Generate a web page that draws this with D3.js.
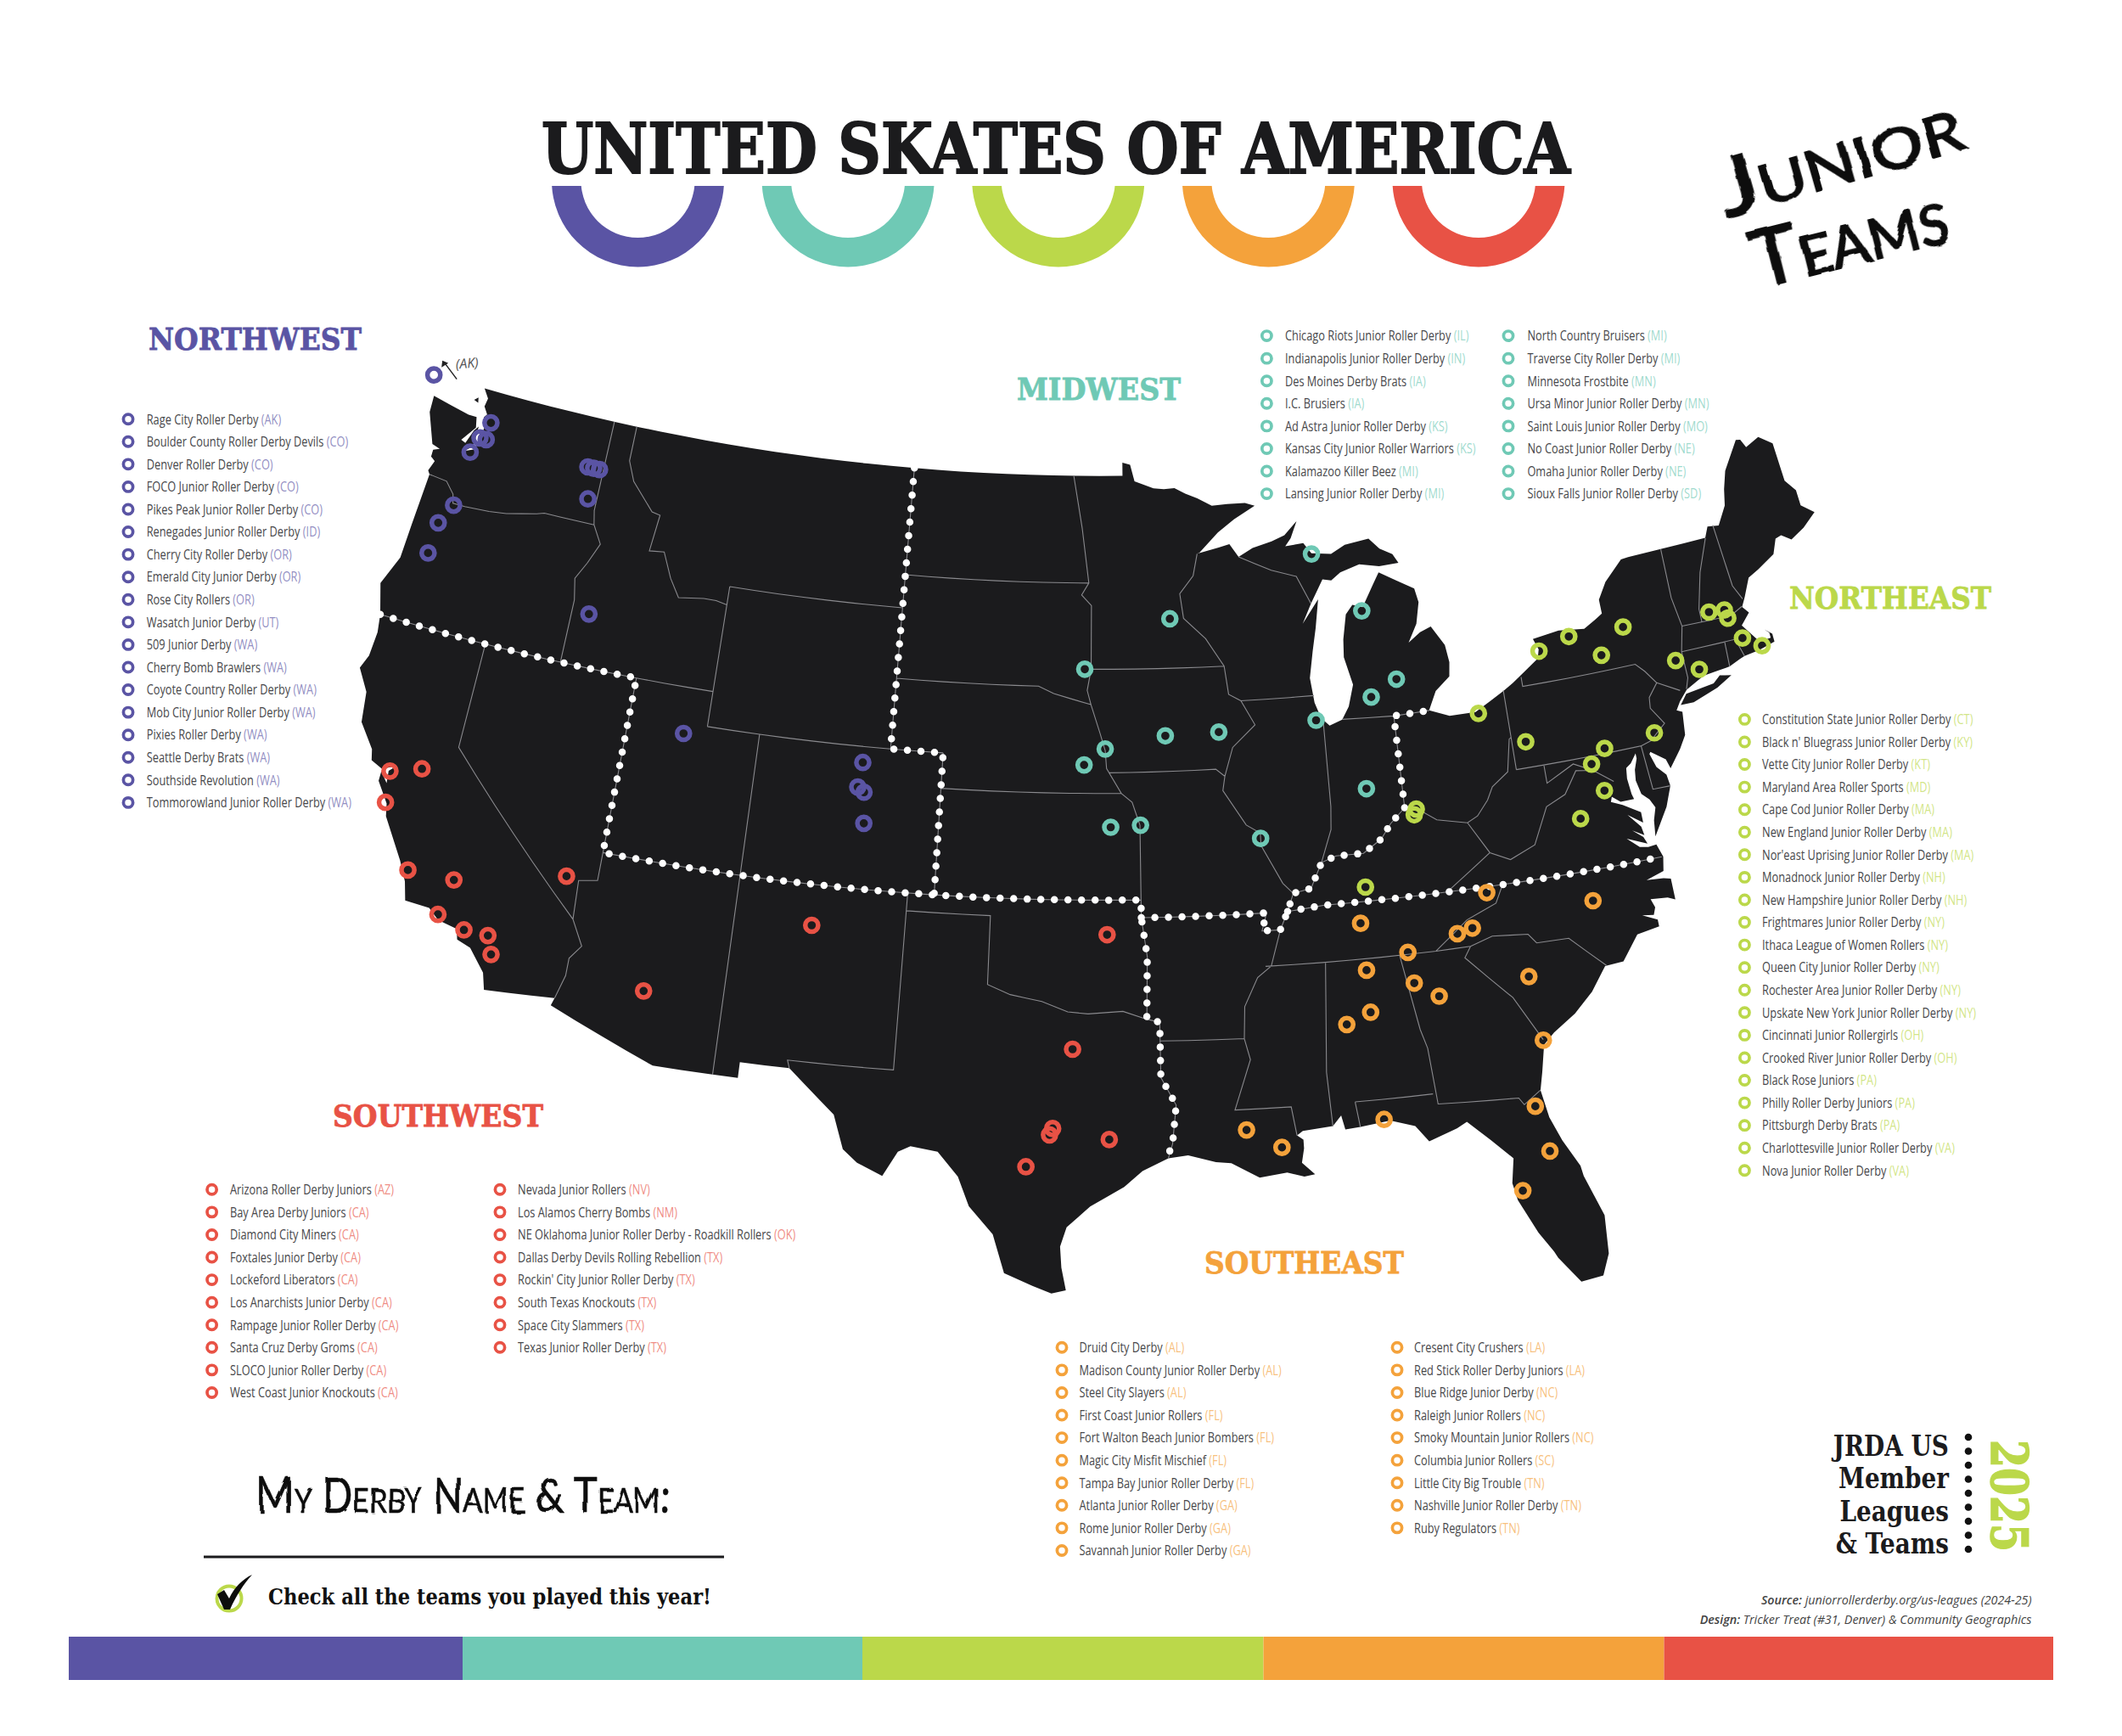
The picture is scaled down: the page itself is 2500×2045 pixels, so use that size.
<!DOCTYPE html>
<html><head><meta charset="utf-8">
<script src="https://cdn.jsdelivr.net/npm/d3@7/dist/d3.min.js"></script>
<style>html,body{margin:0;padding:0;background:#fff}svg{display:block}</style>
</head><body><svg id="c" width="2500" height="2045" viewBox="0 0 2500 2045"></svg>
<script>
const regionNames=["NORTHWEST","MIDWEST","NORTHEAST","SOUTHEAST","SOUTHWEST"];
const regionColors=["#5a54a4","#6fc9b5","#bbd84a","#f4a23b","#e85245"];
const title="UNITED SKATES OF AMERICA";

const northwestTeams=[["Rage City Roller Derby","AK"],["Boulder County Roller Derby Devils","CO"],["Denver Roller Derby","CO"],["FOCO Junior Roller Derby","CO"],["Pikes Peak Junior Roller Derby","CO"],["Renegades Junior Roller Derby","ID"],["Cherry City Roller Derby","OR"],["Emerald City Junior Derby","OR"],["Rose City Rollers","OR"],["Wasatch Junior Derby","UT"],["509 Junior Derby","WA"],["Cherry Bomb Brawlers","WA"],["Coyote Country Roller Derby","WA"],["Mob City Junior Roller Derby","WA"],["Pixies Roller Derby","WA"],["Seattle Derby Brats","WA"],["Southside Revolution","WA"],["Tommorowland Junior Roller Derby","WA"]];
const midwestTeams=[["Chicago Riots Junior Roller Derby","IL"],["Indianapolis Junior Roller Derby","IN"],["Des Moines Derby Brats","IA"],["I.C. Brusiers","IA"],["Ad Astra Junior Roller Derby","KS"],["Kansas City Junior Roller Warriors","KS"],["Kalamazoo Killer Beez","MI"],["Lansing Junior Roller Derby","MI"],["North Country Bruisers","MI"],["Traverse City Roller Derby","MI"],["Minnesota Frostbite","MN"],["Ursa Minor Junior Roller Derby","MN"],["Saint Louis Junior Roller Derby","MO"],["No Coast Junior Roller Derby","NE"],["Omaha Junior Roller Derby","NE"],["Sioux Falls Junior Roller Derby","SD"]];
const northeastTeams=[["Constitution State Junior Roller Derby","CT"],["Black n' Bluegrass Junior Roller Derby","KY"],["Vette City Junior Roller Derby","KT"],["Maryland Area Roller Sports","MD"],["Cape Cod Junior Roller Derby","MA"],["New England Junior Roller Derby","MA"],["Nor'east Uprising Junior Roller Derby","MA"],["Monadnock Junior Roller Derby","NH"],["New Hampshire Junior Roller Derby","NH"],["Frightmares Junior Roller Derby","NY"],["Ithaca League of Women Rollers","NY"],["Queen City Junior Roller Derby","NY"],["Rochester Area Junior Roller Derby","NY"],["Upskate New York Junior Roller Derby","NY"],["Cincinnati Junior Rollergirls","OH"],["Crooked River Junior Roller Derby","OH"],["Black Rose Juniors","PA"],["Philly Roller Derby Juniors","PA"],["Pittsburgh Derby Brats","PA"],["Charlottesville Junior Roller Derby","VA"],["Nova Junior Roller Derby","VA"]];
const southeastTeams=[["Druid City Derby","AL"],["Madison County Junior Roller Derby","AL"],["Steel City Slayers","AL"],["First Coast Junior Rollers","FL"],["Fort Walton Beach Junior Bombers","FL"],["Magic City Misfit Mischief","FL"],["Tampa Bay Junior Roller Derby","FL"],["Atlanta Junior Roller Derby","GA"],["Rome Junior Roller Derby","GA"],["Savannah Junior Roller Derby","GA"],["Cresent City Crushers","LA"],["Red Stick Roller Derby Juniors","LA"],["Blue Ridge Junior Derby","NC"],["Raleigh Junior Rollers","NC"],["Smoky Mountain Junior Rollers","NC"],["Columbia Junior Rollers","SC"],["Little City Big Trouble","TN"],["Nashville Junior Roller Derby","TN"],["Ruby Regulators","TN"]];
const southwestTeams=[["Arizona Roller Derby Juniors","AZ"],["Bay Area Derby Juniors","CA"],["Diamond City Miners","CA"],["Foxtales Junior Derby","CA"],["Lockeford Liberators","CA"],["Los Anarchists Junior Derby","CA"],["Rampage Junior Roller Derby","CA"],["Santa Cruz Derby Groms","CA"],["SLOCO Junior Roller Derby","CA"],["West Coast Junior Knockouts","CA"],["Nevada Junior Rollers","NV"],["Los Alamos Cherry Bombs","NM"],["NE Oklahoma Junior Roller Derby - Roadkill Rollers","OK"],["Dallas Derby Devils Rolling Rebellion","TX"],["Rockin' City Junior Roller Derby","TX"],["South Texas Knockouts","TX"],["Space City Slammers","TX"],["Texas Junior Roller Derby","TX"]];

// league home towns, [longitude, latitude]
const northwestPlaces=[[-125.0,48.95],[-122.1,48.1],[-122.1,47.6],[-122.37,47.6],[-122.6,47.13],[-117.7,47.57],[-117.45,47.57],[-117.2,47.57],[-117.4,46.68],[-122.65,45.55],[-123.05,44.95],[-123.1,44.05],[-116.35,43.5],[-111.9,40.7],[-105.05,40.55],[-105.15,39.85],[-104.9,39.72],[-104.8,38.85]];
const midwestPlaces=[[-87.4,46.5],[-93.3,44.9],[-85.6,44.75],[-96.7,43.5],[-84.55,42.72],[-85.6,42.3],[-87.8,41.8],[-91.55,41.65],[-93.6,41.6],[-95.9,41.25],[-96.7,40.8],[-86.15,39.75],[-95.7,39.05],[-94.6,39.1],[-90.2,38.6]];
const northeastPlaces=[[-72.1,42.95],[-71.5,42.9],[-71.45,42.65],[-71.1,42.0],[-70.45,41.65],[-73.8,41.85],[-73,41.45],[-75.5,43.1],[-76.55,42.45],[-77.65,43.15],[-78.9,42.9],[-81.6,41.45],[-80,40.45],[-75.2,40],[-77.14,39.86],[-77.73,39.5],[-77.45,38.7],[-78.5,38.05],[-84.4,39.02],[-84.5,38.87],[-86.55,37]];
const southeastPlaces=[[-82.27,36.43],[-78.6,35.72],[-86.85,36],[-82.95,35.5],[-83.5,35.4],[-85.3,35.05],[-86.8,34.67],[-85.2,34.17],[-84.4,33.72],[-81.25,33.92],[-86.8,33.48],[-87.65,33.2],[-81.1,32.08],[-81.7,30.27],[-86.7,30.43],[-91.25,30.42],[-90.12,29.87],[-81.45,28.95],[-82.5,27.95]];
const southwestPlaces=[[-122.2,37.85],[-121.1,38.15],[-122.05,36.97],[-120.65,35.3],[-119,35.35],[-119.25,34.3],[-118.25,34.05],[-117.4,34.05],[-117.15,33.55],[-115.15,36.15],[-111.78,33.37],[-106.3,35.85],[-95.84,36.03],[-97.02,32.8],[-97.65,30.55],[-97.75,30.37],[-98.5,29.45],[-95.78,30.25]];

// coast, lake shore and land border of the lower 48, [longitude, latitude]
const landOutline=[[-122.76,49],[-116.05,49],[-104.05,49],[-95.15,49],[-95.15,49.38],[-94.82,49.32],[-94.64,48.84],[-93.84,48.63],[-93.4,48.6],[-92.95,48.62],[-92.5,48.45],[-92,48.3],[-91.4,48.07],[-90.75,48.1],[-90,48.1],[-89.6,48],[-90.5,47.65],[-91.2,47.3],[-92,46.75],[-92.1,46.72],[-91.2,46.87],[-90.75,46.95],[-90.4,46.57],[-89.8,46.8],[-89,46.95],[-88.45,47.1],[-87.9,47.47],[-88.2,47],[-88.45,46.78],[-87.7,46.83],[-87.4,46.52],[-86.6,46.45],[-86,46.67],[-85,46.77],[-84.6,46.45],[-84.1,46.25],[-83.9,45.98],[-84.7,45.95],[-85.5,46.07],[-86.3,45.9],[-86.7,45.7],[-87.05,45.75],[-87.6,45.1],[-88,44.55],[-87.3,45.2],[-87.5,44.4],[-87.7,43.75],[-87.9,43],[-87.8,42.3],[-87.6,41.85],[-87.3,41.62],[-86.8,41.75],[-86.5,42.1],[-86.25,42.7],[-86.5,43.5],[-86.45,44],[-86.25,44.7],[-85.95,44.95],[-85.55,44.85],[-85,45.5],[-84.75,45.78],[-84.1,45.5],[-83.4,45.2],[-83.3,44.8],[-83.5,44.2],[-83.9,43.7],[-83.4,43.95],[-82.95,44.07],[-82.5,43.5],[-82.42,43],[-82.5,42.6],[-83.1,42.25],[-83.45,41.73],[-82.7,41.5],[-81.7,41.5],[-80.5,41.97],[-80.1,42.15],[-79,42.7],[-78.9,42.95],[-79.05,43.27],[-78,43.37],[-77,43.28],[-76.5,43.47],[-76.2,43.6],[-76.2,44],[-75.8,44.45],[-75,44.98],[-74.7,45],[-73.35,45.01],[-71.5,45.01],[-71.3,45.3],[-70.85,45.25],[-70.4,45.75],[-70.25,46.2],[-70,46.7],[-69.23,47.46],[-69.05,47.43],[-68.9,47.18],[-68.3,47.36],[-67.8,47.07],[-67.78,45.95],[-67.45,45.6],[-67.45,45.15],[-67,44.85],[-67.6,44.52],[-68.2,44.3],[-68.55,44.5],[-68.8,44.45],[-69.05,44.05],[-69.8,43.75],[-70.25,43.6],[-70.6,43.1],[-70.8,42.85],[-70.6,42.65],[-71,42.35],[-70.65,41.95],[-70.5,41.78],[-70.05,41.8],[-70.05,41.95],[-70.2,42.07],[-69.95,41.9],[-69.95,41.67],[-70.6,41.55],[-71.2,41.5],[-71.4,41.45],[-71.85,41.32],[-72.9,41.25],[-73.65,40.98],[-74,40.7],[-74.2,40.48],[-74,40.4],[-74.1,39.75],[-74.4,39.4],[-74.9,38.93],[-75,39.2],[-75.5,39.5],[-75.55,39.45],[-75.4,39.05],[-75.1,38.78],[-75.05,38.45],[-75.35,37.9],[-75.97,37.15],[-75.9,37.6],[-75.75,37.95],[-75.9,38.2],[-76.15,38.4],[-76.25,38.8],[-76.2,39.1],[-76.05,39.4],[-76.05,39.55],[-76.3,39.3],[-76.5,39.2],[-76.55,38.9],[-76.5,38.45],[-76.45,38.3],[-76.95,38.3],[-77.25,38.5],[-77.05,38.85],[-77.3,38.35],[-76.9,38.2],[-76.3,37.9],[-76.3,37.6],[-76.8,37.9],[-76.4,37.5],[-76.35,37.25],[-76.75,37.45],[-76.4,37.2],[-76.3,37],[-77,37.25],[-76.6,36.95],[-76.3,36.9],[-76,36.92],[-75.85,36.55],[-75.95,36.15],[-76.6,36],[-76,35.95],[-75.75,35.9],[-75.75,35.3],[-76.0,35.4],[-76.6,35.45],[-76.5,35.2],[-76.6,35],[-77,35.05],[-76.5,34.85],[-76.5,34.65],[-77.3,34.55],[-77.95,33.88],[-78.6,33.85],[-79.2,33.2],[-79.9,32.68],[-80.7,32.25],[-81.1,31.95],[-81.3,31.2],[-81.45,30.7],[-81.3,29.9],[-81,29.2],[-80.55,28.4],[-80.5,28.1],[-80.05,26.9],[-80.12,25.8],[-80.4,25.2],[-81.1,25.13],[-81.7,25.9],[-81.8,26.1],[-82.2,26.7],[-82.7,27.7],[-82.8,28.2],[-82.65,28.9],[-83.3,29.5],[-84,30.1],[-84.35,29.95],[-85.3,29.68],[-85.7,30.15],[-86.5,30.38],[-87.5,30.28],[-88,30.25],[-88.1,30.65],[-88.4,30.37],[-89.4,30.3],[-89.6,30.18],[-89.4,30.05],[-89.4,29.8],[-89.5,29.4],[-89.1,29.05],[-89.45,29.0],[-90,29.15],[-90.9,29.05],[-91.8,29.5],[-92.3,29.55],[-93.2,29.77],[-93.85,29.7],[-94.7,29.35],[-95.3,28.9],[-96.4,28.35],[-97.15,27.75],[-97.35,27.2],[-97.3,26.6],[-97.15,25.95],[-97.6,25.85],[-98.2,26.06],[-99.1,26.4],[-99.5,27.5],[-100.3,28.27],[-100.7,29.1],[-101.4,29.77],[-102.3,29.88],[-102.7,29.7],[-103.15,28.98],[-104,29.3],[-104.5,29.65],[-104.9,30.6],[-106,31.4],[-106.53,31.78],[-108.2,31.78],[-108.2,31.33],[-111.07,31.33],[-114.8,32.5],[-114.72,32.72],[-117.12,32.53],[-117.28,33],[-117.9,33.6],[-118.4,33.74],[-118.5,34.03],[-119.2,34.15],[-119.6,34.42],[-120.47,34.45],[-120.65,34.97],[-121,35.5],[-121.9,36.6],[-122,36.95],[-122.5,37.5],[-122.5,37.78],[-122.2,37.5],[-122.25,37.85],[-122.0,38.05],[-122.5,37.85],[-122.95,38],[-123.05,38.3],[-123.7,38.95],[-123.85,39.8],[-124.35,40.4],[-124.15,40.8],[-124.1,41.5],[-124.2,42],[-124.55,42.85],[-124.1,43.7],[-124.05,44.7],[-123.95,46.2],[-124.05,46.3],[-123.9,46.6],[-124.1,46.7],[-124.1,46.9],[-123.85,46.98],[-124.2,47.05],[-124.7,47.9],[-124.73,48.38],[-123.1,48.15],[-122.75,48.15],[-122.65,47.85],[-123.1,47.4],[-122.9,47.35],[-122.7,47.75],[-122.55,47.9],[-122.55,47.3],[-122.9,47.1],[-122.45,47.25],[-122.35,47.6],[-122.3,48],[-122.45,48.2],[-122.35,48.3],[-122.55,48.5],[-122.5,48.75],[-122.76,49]];
const longIsland=[[-74,40.6],[-73.7,40.87],[-72.6,40.97],[-72.3,41.15],[-71.87,41.07],[-72.5,40.83],[-73.5,40.59],[-74,40.6]];
const orcasIsland=[[-123.05,48.6],[-122.9,48.7],[-122.85,48.55],[-123.05,48.6]];

const stateBorders=[
[[-123.95,46.2],[-123.2,46.15],[-122.8,45.85],[-122.7,45.6],[-122.2,45.6],[-121.2,45.65],[-120.5,45.72],[-119.3,45.93],[-119,46],[-116.92,46]],
[[-117.03,49],[-117.04,46.4],[-116.92,46],[-116.5,45.5],[-116.85,44.9],[-117.2,44.4],[-117.03,43.8],[-117.03,42]],
[[-116.05,49],[-116.05,48],[-115.7,47.45],[-114.7,46.7],[-114.35,46.65],[-114.5,45.6],[-113.9,45.65],[-113.45,44.95],[-113,44.45],[-112,44.55],[-111.5,44.55],[-111.05,44.48]],
[[-111.05,45],[-111.05,41]],[[-111.05,45],[-104.05,45]],[[-104.05,49],[-104.05,41]],[[-111.05,41],[-102.05,41]],
[[-124.2,42],[-111.05,42]],[[-114.04,42],[-114.04,36.2],[-114.7,36.1],[-114.63,35]],[[-114.04,37],[-94.62,37]],[[-109.05,41],[-109.05,31.33]],
[[-120,42],[-120,39],[-114.63,35],[-114.15,34.3],[-114.5,33.9],[-114.5,33.4],[-114.72,32.72]],
[[-103,37],[-103.04,32],[-106.62,32],[-106.53,31.78]],
[[-103,36.5],[-100,36.5],[-100,34.56],[-99.2,34.3],[-98.1,34.13],[-97.2,33.85],[-96.5,33.8],[-95.3,33.87],[-94.48,33.64],[-94.04,33.55],[-94.04,31.99],[-93.55,31.2],[-93.7,30.1],[-93.85,29.7]],
[[-94.62,36.5],[-94.43,35.4],[-94.48,33.64]],[[-94.04,33.02],[-91.17,33]],
[[-102.05,41],[-102.05,37]],[[-102.05,40],[-95.3,40]],[[-104.05,45.94],[-96.56,45.94]],[[-104.05,43],[-98.5,43],[-97.9,42.8],[-96.45,42.5]],
[[-97.23,49],[-96.85,47.5],[-96.56,45.94],[-96.85,45.6],[-96.45,45.3],[-96.45,43.5],[-96.6,42.9],[-96.45,42.5],[-96.1,41.7],[-95.9,41.2],[-95.85,40.7],[-95.3,40],[-94.9,39.75],[-94.62,39.1],[-94.62,36.5]],
[[-96.45,43.5],[-91.22,43.5]],[[-92.1,46.72],[-92.3,46.1],[-92.87,45.6],[-92.75,44.9],[-91.9,44.3],[-91.22,43.5],[-91.1,42.7],[-90.64,42.5],[-90.15,41.8],[-91.05,41.2],[-91.4,40.4],[-91.5,40],[-90.7,39],[-90.2,38.75],[-90.2,38.4],[-89.5,37.3],[-89.15,37]],
[[-90.64,42.5],[-87.8,42.5]],[[-95.77,40.58],[-91.73,40.61],[-91.4,40.4]],
[[-90.4,46.57],[-89.1,46.13],[-88.1,45.9],[-87.6,45.1]],
[[-89.15,37],[-88.5,37.1],[-88.05,37.8],[-87.5,37.95],[-86.5,37.95],[-85.8,38.3],[-85.4,38.7],[-84.82,39.1],[-84.4,39.05],[-83.7,38.65],[-82.6,38.45],[-82.2,38.6],[-81.75,39],[-81.5,39.35],[-80.85,39.7],[-80.6,40.6],[-80.52,40.64]],
[[-87.53,41.7],[-87.53,39.35],[-87.6,38.7],[-88.05,37.8]],[[-84.82,41.7],[-84.82,39.1]],[[-86.8,41.76],[-84.82,41.7],[-83.45,41.73]],
[[-80.52,41.98],[-80.52,39.72]],[[-79.76,42.27],[-79.76,42],[-75.35,42],[-75.05,41.75],[-74.7,41.36],[-75.1,41],[-75.15,40.7],[-74.75,40.2],[-75.4,39.8]],
[[-80.52,39.72],[-75.79,39.72],[-75.7,38.46],[-75.05,38.45]],[[-75.4,39.8],[-75.79,39.72]],[[-74.7,41.36],[-73.9,41]],
[[-79.48,39.72],[-79.48,39.2],[-78.4,39.6],[-77.72,39.32],[-77.05,38.9]],
[[-77.72,39.32],[-78.35,39.4],[-78.9,38.8],[-79.65,38.55],[-80.3,37.55],[-81.25,37.25],[-81.95,37.53],[-82.6,38.45]],[[-81.95,37.53],[-83.67,36.6]],
[[-75.9,36.55],[-81.67,36.59],[-83.67,36.6],[-88.07,36.6],[-89.4,36.5],[-89.15,37]],
[[-94.62,36.5],[-90.15,36.5],[-90.35,36],[-89.7,36],[-89.4,36.5]],
[[-89.7,36],[-90.1,35],[-90.6,34.7],[-91.1,33.9],[-91.17,33],[-91,32.4],[-91.6,31],[-89.73,31],[-89.6,30.18]],
[[-90.3,35],[-84.32,34.99],[-83.1,35]],[[-81.67,36.59],[-82,36.1],[-83.1,35.75],[-84.32,34.99]],[[-88.2,35],[-88.47,31.9],[-88.4,30.37]],
[[-85.6,35],[-85.18,32.85],[-85,32.3],[-84.87,30.7],[-82.2,30.57],[-82.05,30.36],[-81.45,30.7]],[[-87.6,31],[-85,31]],[[-87.6,31],[-87.5,30.28]],
[[-83.1,35],[-83.35,34.7],[-81.9,33.4],[-81.1,32.1]],[[-83.1,35],[-82.3,35.2],[-81.05,35.1],[-80.8,34.82],[-79.67,34.8],[-78.55,33.86]],
[[-73.35,45],[-73.4,43.6],[-73.25,42.75],[-73.5,42.05],[-73.5,41.3],[-73.65,41]],[[-71.5,45],[-72.05,44.1],[-72.45,43.1],[-72.46,42.73]],
[[-73.25,42.75],[-71.3,42.7],[-70.8,42.87]],[[-71.08,45.3],[-70.95,43.5],[-70.7,43.07]],[[-73.5,42.05],[-71.38,42.02],[-71.2,41.5]],[[-71.8,42.02],[-71.85,41.32]]
];
const regionDividers=[
[[-124.2,42],[-114.04,42],[-114.04,37],[-94.62,37],[-94.62,36.5],[-94.43,35.4],[-94.48,33.64],[-94.04,33.55],[-94.04,31.99],[-93.55,31.2],[-93.7,30.1],[-93.85,29.8]],
[[-104.05,49],[-104.05,41],[-102.05,41],[-102.05,37]],
[[-94.62,36.5],[-90.15,36.5],[-90.35,36],[-89.7,36],[-89.4,36.5],[-89.15,37],[-88.5,37.1],[-88.05,37.8],[-87.5,37.95],[-86.5,37.95],[-85.8,38.3],[-85.4,38.7],[-84.82,39.1],[-84.82,41.7],[-83.45,41.73]],
[[-89.4,36.5],[-88.07,36.6],[-83.67,36.6],[-81.67,36.59],[-75.9,36.55]]
];

const svg=d3.select("#c");
svg.append("rect").attr("width",2500).attr("height",2045).attr("fill","#fff");
const defs=svg.append("defs");
const wob=defs.append("filter").attr("id","hand").attr("x","-10%").attr("y","-30%").attr("width","120%").attr("height","160%");
wob.append("feTurbulence").attr("type","fractalNoise").attr("baseFrequency",0.03).attr("numOctaves",2).attr("seed",4).attr("result","n");
wob.append("feDisplacementMap").attr("in","SourceGraphic").attr("in2","n").attr("scale",7);
const clip=defs.append("clipPath").attr("id","arcTop");
clip.append("rect").attr("x",0).attr("y",219).attr("width",2500).attr("height",120);

const SLAB='"DejaVu Serif",serif', SANS='"Open Sans",sans-serif', HAND='"Lato",sans-serif', INK="#1b1b1d";

// title
svg.append("text").attr("x",638).attr("y",204).attr("font-family",SLAB).attr("font-weight",700).attr("font-size",83)
  .attr("fill",INK).attr("stroke",INK).attr("stroke-width",2).attr("textLength",1212).attr("lengthAdjust","spacingAndGlyphs").text(title);

// half rings
const arcX=d3.scalePoint().domain(regionNames).range([751.5,1742]);
const ringArc=d3.arc().innerRadius(67).outerRadius(101.5).startAngle(-Math.PI/2).endAngle(Math.PI/2);
svg.append("g").attr("clip-path","url(#arcTop)").selectAll("path").data(regionNames).join("path")
  .attr("d",ringArc()).attr("transform",d=>`translate(${arcX(d)},213) rotate(180)`)
  .attr("fill",(d,i)=>regionColors[i]);

// handwriting
function hand(t,x,y,rot,size,len,stroke){
  svg.append("text").attr("transform",`translate(${x},${y}) rotate(${rot})`).attr("font-family",HAND).attr("font-weight",400)
   .attr("font-size",size).attr("font-variant","small-caps").attr("fill","#111").attr("stroke","#111").attr("stroke-width",stroke)
   .attr("textLength",len).attr("lengthAdjust","spacingAndGlyphs").attr("filter","url(#hand)").text(t);
}
hand("Junior",2034,256,-16,94,296,2.2);
hand("Teams",2072,340,-14,94,236,2.2);
hand("My Derby Name & Team:",302,1782,0,58,487,0.6);

// map
const proj=d3.geoAlbers().rotate([96,0]).center([0,38]).parallels([29.5,45.5]).scale(2378).translate([1299,1018.5]);
const geo=d3.geoPath(proj);
function dense(line){
  const out=[];
  d3.pairs(line).forEach(([a,b])=>{
    const n=Math.max(1,Math.ceil(Math.abs(b[0]-a[0])));
    for(let i=0;i<n;i++) out.push([a[0]+(b[0]-a[0])*i/n,a[1]+(b[1]-a[1])*i/n]);
  });
  out.push(line[line.length-1]);
  return out;
}
const map=svg.append("g");
map.append("path").datum({type:"MultiPolygon",coordinates:[[dense(landOutline)],[longIsland],[orcasIsland]]}).attr("d",geo).attr("fill",INK);
map.append("path").datum({type:"MultiLineString",coordinates:stateBorders.map(dense)}).attr("d",geo).attr("fill","none").attr("stroke","#8a8a8e").attr("stroke-width",1.1);
map.append("path").datum({type:"MultiLineString",coordinates:regionDividers.map(dense)}).attr("d",geo).attr("fill","none")
  .attr("stroke","#fff").attr("stroke-width",8.5).attr("stroke-linecap","round").attr("stroke-dasharray","0 16");

const places=[northwestPlaces,midwestPlaces,northeastPlaces,southeastPlaces,southwestPlaces];
places.forEach((pl,i)=>{
  map.append("g").selectAll("circle").data(pl).join("circle")
    .attr("cx",d=>proj(d)[0]).attr("cy",d=>proj(d)[1]).attr("r",7.6).attr("fill","none")
    .attr("stroke",regionColors[i]).attr("stroke-width",5.5);
});
// Alaska note
const ak=proj(northwestPlaces[0]);
svg.append("line").attr("x1",ak[0]+27).attr("y1",ak[1]+5).attr("x2",ak[0]+12).attr("y2",ak[1]-15).attr("stroke","#222").attr("stroke-width",1.5);
svg.append("path").attr("d",d3.line()([[ak[0]+9,ak[1]-9],[ak[0]+10,ak[1]-17],[ak[0]+17,ak[1]-14]])).attr("fill","#222").attr("stroke","none");
svg.append("text").attr("transform",`translate(${ak[0]+26},${ak[1]-7}) rotate(-5)`).attr("font-family",SANS).attr("font-style","italic").attr("font-size",16).attr("fill","#555").text("(AK)");

// region headings
const headAt=[[175,412,251],[1198,471,193],[2108,717,238],[1419,1500,235],[392,1327,248]];
regionNames.forEach((n,i)=>{
  svg.append("text").attr("x",headAt[i][0]).attr("y",headAt[i][1]).attr("font-family",SLAB).attr("font-weight",700).attr("font-size",36)
    .attr("fill",regionColors[i]).attr("stroke",regionColors[i]).attr("stroke-width",0.8).attr("textLength",headAt[i][2]).attr("lengthAdjust","spacingAndGlyphs").text(n);
});

// team lists
function list(teams,colour,cx,tx,y0){
  const y=d3.scaleLinear().domain([0,1]).range([y0,y0+26.57]);
  const g=svg.append("g");
  const row=g.selectAll("g").data(teams).join("g");
  row.append("circle").attr("cx",cx).attr("cy",(d,i)=>y(i)).attr("r",5.6).attr("fill","none").attr("stroke",colour).attr("stroke-width",3.7);
  const t=row.append("text").attr("transform",(d,i)=>`translate(${tx},${y(i)+5.8}) scale(0.785,1)`).attr("font-family",SANS).attr("font-size",16.3).attr("fill","#47474a");
  t.append("tspan").text(d=>d[0]+" ");
  t.append("tspan").attr("fill",colour).attr("fill-opacity",0.68).text(d=>`(${d[1]})`);
}
list(northwestTeams,regionColors[0],151,172.7,493.7);
list(midwestTeams.slice(0,8),regionColors[1],1492.4,1514,395.6);
list(midwestTeams.slice(8),regionColors[1],1777,1799.4,395.6);
list(northeastTeams,regionColors[2],2055.4,2076,847.4);
list(southeastTeams.slice(0,10),regionColors[3],1251,1271.5,1587.3);
list(southeastTeams.slice(10),regionColors[3],1646,1666,1587.3);
list(southwestTeams.slice(0,10),regionColors[4],249.6,271,1401.3);
list(southwestTeams.slice(10),regionColors[4],589,610,1401.3);

// name line and check note
svg.append("line").attr("x1",240).attr("x2",853).attr("y1",1834).attr("y2",1834).attr("stroke",INK).attr("stroke-width",3);
svg.append("circle").attr("cx",270).attr("cy",1883).attr("r",14.5).attr("fill","#fff").attr("stroke",regionColors[2]).attr("stroke-width",4);
svg.append("path").attr("d","M256,1878 L264,1873 L270,1883 C276,1870 286,1860 297,1855 C287,1866 278,1880 271,1896 L264,1896 Z").attr("fill","#0c0c0c");
svg.append("text").attr("x",316).attr("y",1890).attr("font-family",SLAB).attr("font-weight",700).attr("font-size",26).attr("fill","#111")
  .attr("textLength",522).attr("lengthAdjust","spacingAndGlyphs").text("Check all the teams you played this year!");

// footer block
const jrdaLines=["JRDA US","Member","Leagues","& Teams"];
const lineY=d3.scaleLinear().domain([0,3]).range([1715,1830]);
jrdaLines.forEach((l,i)=>{
  svg.append("text").attr("transform",`translate(2296,${lineY(i)}) scale(0.82,1)`).attr("text-anchor","end").attr("font-family",SLAB).attr("font-weight",700).attr("font-size",34).attr("fill",INK).text(l);
});
const dotY=d3.scaleLinear().domain([0,8]).range([1693,1825]);
svg.append("g").selectAll("circle").data(d3.range(9)).join("circle").attr("cx",2319).attr("cy",d=>dotY(d)).attr("r",4.3).attr("fill","#111");
svg.append("text").attr("transform","translate(2346,1696) rotate(90)").attr("font-family",SLAB).attr("font-weight",700).attr("font-size",60)
  .attr("fill",regionColors[2]).attr("stroke",regionColors[2]).attr("stroke-width",1.5).attr("textLength",132).attr("lengthAdjust","spacingAndGlyphs").text("2025");
const src=svg.append("text").attr("x",2393.5).attr("y",1890).attr("text-anchor","end").attr("font-family",SANS).attr("font-style","italic").attr("font-size",14.3).attr("fill","#444");
src.append("tspan").attr("font-weight",600).text("Source: ");src.append("tspan").text("juniorrollerderby.org/us-leagues (2024-25)");
const des=svg.append("text").attr("x",2393.5).attr("y",1913).attr("text-anchor","end").attr("font-family",SANS).attr("font-style","italic").attr("font-size",14.3).attr("fill","#444");
des.append("tspan").attr("font-weight",600).text("Design: ");des.append("tspan").text("Tricker Treat (#31, Denver) & Community Geographics");

// colour band
const bandEdges=[81,545,1016,1488.5,1960.5,2419];
svg.append("g").selectAll("rect").data(regionColors).join("rect").attr("x",(d,i)=>bandEdges[i]).attr("y",1928)
  .attr("width",(d,i)=>bandEdges[i+1]-bandEdges[i]).attr("height",51).attr("fill",d=>d);
</script></body></html>
